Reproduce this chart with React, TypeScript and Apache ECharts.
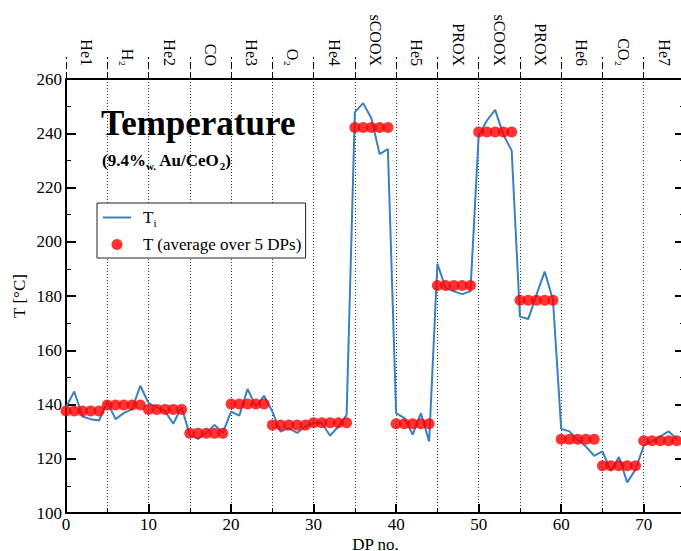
import React, { useEffect, useRef } from "react";
import * as echarts from "echarts";

// DP number (x) of each data point
const dpNumbers = [
  0, 1, 2, 3, 4, 5, 6, 7, 8, 9, 10, 11, 12, 13, 14, 15, 16, 17, 18, 19, 20, 21, 22, 23, 24,
  25, 26, 27, 28, 29, 30, 31, 32, 33, 34, 35, 36, 37, 38, 39, 40, 41, 42, 43, 44, 45, 46, 47,
  48, 49, 50, 51, 52, 53, 54, 55, 56, 57, 58, 59, 60, 61, 62, 63, 64, 65, 66, 67, 68, 69, 70,
  71, 72, 73, 74,
];

// Instantaneous temperature T_i per DP
const tInstant = [
  139, 144.8, 135.6, 134.6, 134.1,
  141, 134.6, 136.8, 138.3, 146.9,
  140.5, 139, 137.5, 132.9, 139.1,
  128.8, 127.3, 129.5, 132.5, 129.5,
  137.4, 135.9, 145.7, 139.3, 143.2,
  137.4, 130, 131.3, 129.5, 131.9,
  133.2, 133.2, 128.5, 131.9, 136.2,
  247.8, 251.1, 245.5, 232.3, 234.2,
  136.8, 135, 128.9, 136.8, 126.4,
  191.9, 182.9, 181.7, 180.7, 181.7,
  239, 244.7, 248.6, 239.4, 233.6,
  172.4, 171.5, 180.4, 189, 178.6,
  131, 130.1, 127, 124.5, 121.1,
  122.7, 115.6, 120.6, 111.3, 116,
  124.8, 126.4, 128.2, 130.1, 127.3,
];

// Average over each block of 5 DPs
const tAverage = [
  137.6, 139.8, 138.2, 129.4, 140.2, 132.4, 133.3, 242.1, 132.9, 183.9, 240.5, 178.4, 127.2,
  117.4, 126.6,
];

const BLOCK = 5;

// Gas phase labels (top axis), one per block of 5 DPs
const phaseLabels = [
  "He1", "H₂", "He2", "CO", "He3", "O₂", "He4", "sCOOX", "He5", "PROX", "sCOOX",
  "PROX", "He6", "CO₂", "He7",
];

const yTicks = { min: 100, max: 260, interval: 20 };
const xTicks = { min: 0, max: 75, interval: 10 };

const FONT = "Liberation Serif";

export default function App() {
  const ref = useRef<HTMLDivElement>(null);

  useEffect(() => {
    if (!ref.current) return;
    const chart = echarts.init(ref.current, null, { renderer: "svg" });

    const lineData = dpNumbers.map((x, i) => [x, tInstant[i]]);
    const avgData = dpNumbers.map((x) => [x, tAverage[Math.floor(x / BLOCK)]]);

    const option: any = {
      animation: false,
      backgroundColor: "#ffffff",
      textStyle: { fontFamily: FONT, color: "#000" },
      title: [
        {
          text: "Temperature",
          left: 96,
          top: 101,
          textStyle: { fontFamily: FONT, fontSize: 35, fontWeight: "bold", color: "#000" },
        },
        {
          text: "(9.4%{s|w.} Au/CeO{s|2})",
          left: 97,
          top: 145,
          textStyle: {
            fontFamily: FONT,
            fontSize: 17,
            fontWeight: "bold",
            color: "#000",
            rich: {
              s: { fontFamily: FONT, fontSize: 11, fontWeight: "bold", padding: [10, 0, 0, 0] },
            },
          },
        },
      ],
      legend: {
        orient: "vertical",
        left: 97,
        top: 203,
        padding: [6, 4, 5, 6],
        itemGap: 8,
        itemWidth: 28,
        itemHeight: 11,
        borderColor: "#222",
        borderWidth: 1,
        backgroundColor: "#fff",
        data: [
          { name: "Ti", icon: "path://M0,0H28V2H0Z" },
          { name: "T (average over 5 DPs)", icon: "circle" },
        ],
        formatter: (name: string) => (name === "Ti" ? "{m|T}{s|i}" : "{m|" + name + "}"),
        textStyle: {
          fontFamily: FONT,
          fontSize: 17,
          color: "#000",
          rich: {
            m: { fontFamily: FONT, fontSize: 17, color: "#000", padding: [0, 0, 0, 7] },
            s: { fontFamily: FONT, fontSize: 11, color: "#000", padding: [10, 0, 0, 0] },
          },
        },
      },
      grid: { left: 66, right: -4, top: 79, bottom: 38, containLabel: false, outerBoundsMode: "none" },
      xAxis: [
        {
          type: "value",
          position: "bottom",
          min: xTicks.min,
          max: xTicks.max,
          interval: xTicks.interval,
          name: "DP no.",
          nameLocation: "middle",
          nameGap: 23,
          nameMoveOverlap: false,
          nameTextStyle: { fontFamily: FONT, fontSize: 17, color: "#000" },
          axisLine: { show: true, lineStyle: { color: "#000", width: 2 } },
          axisTick: { show: true, inside: true, length: 9, lineStyle: { color: "#000", width: 2 } },
          minorTick: { show: true, splitNumber: 2, length: 5, lineStyle: { color: "#000", width: 1 } },
          axisLabel: {
            fontFamily: FONT,
            fontSize: 17,
            color: "#000",
            margin: 3,
            showMaxLabel: false,
            formatter: (v: number) => (v % 10 === 0 ? String(v) : ""),
          },
          splitLine: { show: false },
        },
        {
          type: "category",
          position: "top",
          data: phaseLabels,
          boundaryGap: true,
          axisLine: { show: true, lineStyle: { color: "#000", width: 2 } },
          axisTick: {
            show: true,
            inside: false,
            length: 22,
            alignWithLabel: false,
            lineStyle: { color: "#000", width: 1, type: [7, 3] },
          },
          axisLabel: {
            show: true,
            rotate: 90,
            interval: 0,
            margin: 13,
            fontFamily: FONT,
            fontSize: 16,
            color: "#000",
          },
          splitLine: {
            show: true,
            lineStyle: { color: "#333", width: 1, type: [1, 2] },
          },
        },
      ],
      yAxis: [
        {
          type: "value",
          position: "left",
          min: yTicks.min,
          max: yTicks.max,
          interval: yTicks.interval,
          name: "T [°C]",
          nameLocation: "middle",
          nameGap: 38,
          nameRotate: 90,
          nameMoveOverlap: false,
          nameTextStyle: { fontFamily: FONT, fontSize: 17, color: "#000" },
          axisLine: { show: true, lineStyle: { color: "#000", width: 2 } },
          axisTick: { show: true, inside: true, length: 10, lineStyle: { color: "#000", width: 2 } },
          minorTick: { show: true, splitNumber: 2, length: 5, lineStyle: { color: "#000", width: 1 } },
          axisLabel: { fontFamily: FONT, fontSize: 17, color: "#000", margin: 4 },
          splitLine: { show: false },
        },
        {
          type: "value",
          position: "right",
          min: yTicks.min,
          max: yTicks.max,
          interval: yTicks.interval,
          axisLine: { show: true, lineStyle: { color: "#000", width: 2 } },
          axisTick: { show: true, inside: true, length: 10, lineStyle: { color: "#000", width: 2 } },
          minorTick: { show: true, splitNumber: 2, length: 5, lineStyle: { color: "#000", width: 1 } },
          axisLabel: { show: false },
          splitLine: { show: false },
        },
      ],
      series: [
        {
          name: "Ti",
          type: "line",
          xAxisIndex: 0,
          yAxisIndex: 0,
          data: lineData,
          symbol: "none",
          lineStyle: { color: "#3a7fc0", width: 2 },
          itemStyle: { color: "#3a7fc0" },
          z: 3,
        },
        {
          name: "T (average over 5 DPs)",
          type: "scatter",
          xAxisIndex: 0,
          yAxisIndex: 0,
          data: avgData,
          symbol: "circle",
          symbolSize: 11,
          itemStyle: { color: "#ff0000" },
          z: 4,
        },
      ],
    };

    chart.setOption(option);
    return () => chart.dispose();
  }, []);

  return (
    <div
      ref={ref}
      style={{ position: "absolute", left: 0, top: 0, width: 681, height: 551, background: "#fff" }}
    />
  );
}
